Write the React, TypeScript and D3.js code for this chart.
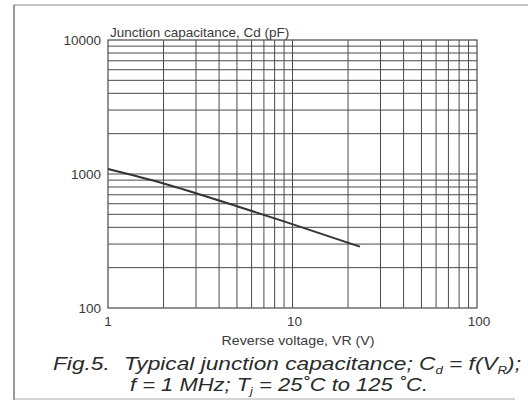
import React from "react";
import * as d3 from "d3";

const voltage = [1, 2, 5, 8.9, 23.2];
const capacitance = [1090, 850, 575, 445, 287];
const xTicks = [1, 10, 100];
const yTicks = [100, 1000, 10000];
const yTitle = "Junction capacitance, Cd (pF)";
const xTitle = "Reverse voltage, VR (V)";

const W = 528, H = 401;
const L = 108, R = 477, T = 40, B = 308;

export default function App() {
  const x = d3.scaleLog().domain([1, 100]).range([L, R]);
  const y = d3.scaleLog().domain([100, 10000]).range([B, T]);
  const gridX: number[] = [];
  const gridY: number[] = [];
  [1, 10].forEach((d) => { for (let k = 2; k <= 9; k++) gridX.push(d * k); });
  [100, 1000].forEach((d) => { for (let k = 2; k <= 9; k++) gridY.push(d * k); });
  const pts = voltage.map((v, i) => [x(v), y(capacitance[i])] as [number, number]);
  const line = d3.line().curve(d3.curveMonotoneX)(pts) || "";
  const grid = "#4a4a4a";
  const txt = "#3a3a3a";
  return (
    <svg width={W} height={H} style={{ position: "absolute", left: 0, top: 0, background: "#fff" }}
      fontFamily="'Liberation Sans', Arial, sans-serif">
      <line x1={14} y1={5} x2={528} y2={5} stroke="#888" strokeWidth={1.2} />
      <line x1={14} y1={5} x2={14} y2={400} stroke="#777" strokeWidth={1.5} />
      <line x1={14} y1={399} x2={515} y2={399} stroke="#aaa" strokeWidth={1} />
      {gridX.map((v) => (
        <line key={"gx" + v} x1={x(v)} x2={x(v)} y1={T} y2={B} stroke={grid} strokeWidth={1} />
      ))}
      {gridY.map((v) => (
        <line key={"gy" + v} x1={L} x2={R} y1={y(v)} y2={y(v)} stroke={grid} strokeWidth={1} />
      ))}
      {xTicks.slice(1, 2).map((v) => (
        <line key={"mx" + v} x1={x(v)} x2={x(v)} y1={T} y2={B} stroke={grid} strokeWidth={1} />
      ))}
      {yTicks.slice(1, 2).map((v) => (
        <line key={"my" + v} x1={L} x2={R} y1={y(v)} y2={y(v)} stroke={grid} strokeWidth={1} />
      ))}
      <rect x={L} y={T} width={R - L} height={B - T} fill="none" stroke={grid} strokeWidth={1.2} />
      <path d={line} fill="none" stroke="#333" strokeWidth={2} />
      {yTicks.map((v) => (
        <text key={"yt" + v} x={101} y={y(v)} dy="0.35em" textAnchor="end" fontSize={13.5} fill={txt}>{v}</text>
      ))}
      {xTicks.map((v) => (
        <text key={"xt" + v} x={x(v) + (v === 1 ? 0 : 2)} y={321} dy="0.35em" textAnchor="middle" fontSize={13.5} fill={txt}>{v}</text>
      ))}
      <text x={110} y={37} fontSize={13.5} fill={txt}>{yTitle}</text>
      <text x={298} y={340} dy="0.35em" textAnchor="middle" fontSize={13.5} fill={txt} textLength={153} lengthAdjust="spacingAndGlyphs">{xTitle}</text>
      <text x={53} y={370} fontSize={19} fontStyle="italic" fill="#2a2a2a" textLength={468} lengthAdjust="spacingAndGlyphs">
        <tspan>Fig.5.</tspan>
        <tspan dx={12}>Typical junction capacitance; C</tspan>
        <tspan fontSize={11} dy={4}>d</tspan>
        <tspan dy={-4}> = f(V</tspan>
        <tspan fontSize={11} dy={4}>R</tspan>
        <tspan dy={-4}>);</tspan>
      </text>
      <text x={130} y={391} fontSize={19} fontStyle="italic" fill="#2a2a2a" textLength={298} lengthAdjust="spacingAndGlyphs">
        <tspan>f = 1 MHz; T</tspan>
        <tspan fontSize={11} dy={4}>j</tspan>
        <tspan dy={-4}> = 25˚C to 125 ˚C.</tspan>
      </text>
    </svg>
  );
}
